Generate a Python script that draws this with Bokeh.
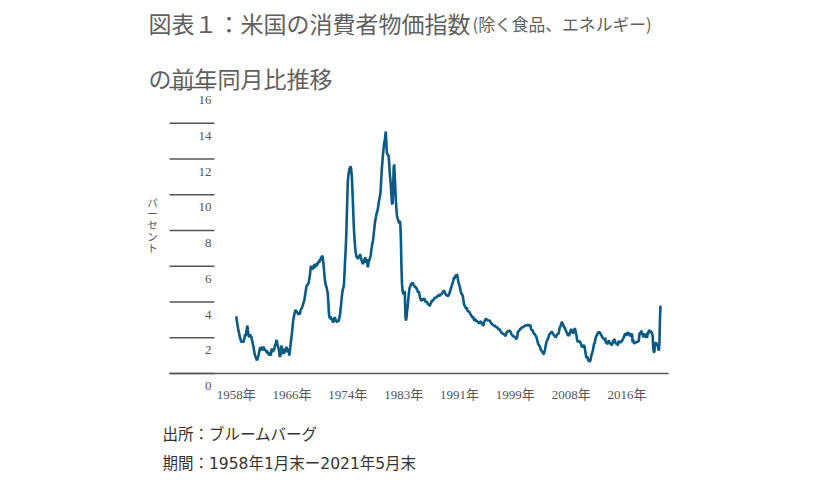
import numpy as np
from bokeh.plotting import figure
from bokeh.models import Range1d, Label
from bokeh.embed import file_html
from bokeh.resources import INLINE
from bokeh.core.properties import value

# ---------------- data ----------------
title_main = "図表１：米国の消費者物価指数"
title_sub = "(除く食品、エネルギー)"
title_line2 = "の前年同月比推移"
y_axis_title = "パ\nー\nセ\nン\nト"
source_note = "出所：ブルームバーグ"
period_note = "期間：1958年1月末ー2021年5月末"

# US core CPI, year-on-year %, monthly from Jan 1958 to May 2021
core_cpi_yoy = [
    3.2, 3.0, 2.8, 2.6, 2.4, 2.3, 2.1, 2.0, 1.9, 1.75, 1.8, 1.75,          # 1958
    1.8, 1.75, 1.9, 2.0, 2.2, 2.1, 2.3, 2.5, 2.68, 2.4, 2.2, 2.03,         # 1959
    2.1, 2.2, 2.0, 2.1, 1.9, 1.8, 1.6, 1.5, 1.3, 1.1, 1.0, 0.9,            # 1960
    0.85, 0.73, 0.8, 0.9, 1.0, 1.2, 1.3, 1.47, 1.3, 1.4, 1.5, 1.3,         # 1961
    1.4, 1.5, 1.3, 1.4, 1.28, 1.3, 1.2, 1.3, 1.1, 1.2, 1.1, 1.0,           # 1962
    1.1, 1.2, 1.0, 1.3, 1.38, 1.3, 1.2, 1.4, 1.3, 1.5, 1.6, 1.7,           # 1963
    1.88, 1.8, 1.6, 1.5, 1.4, 1.2, 0.91, 1.3, 1.0, 1.56, 1.4, 1.2,         # 1964
    1.3, 1.1, 1.19, 1.4, 1.3, 1.2, 1.5, 1.3, 1.4, 1.2, 1.3, 1.0,           # 1965
    1.2, 1.5, 1.8, 2.03, 2.3, 2.6, 2.96, 3.1, 3.3, 3.4, 3.56, 3.5,         # 1966
    3.5, 3.4, 3.4, 3.33, 3.3, 3.4, 3.3, 3.5, 3.6, 3.6, 3.7, 3.8,           # 1967
    3.9, 4.0, 4.08, 4.3, 4.5, 4.7, 4.92, 4.9, 5.0, 5.0, 5.1, 5.3,          # 1968
    5.5, 5.8, 6.03, 5.9, 5.8, 6.0, 5.85, 6.0, 6.1, 5.9, 6.13, 6.1,         # 1969
    6.0, 6.2, 6.1, 6.22, 6.3, 6.2, 6.4, 6.3, 6.54, 6.4, 6.6, 6.5,          # 1970
    6.2, 5.9, 5.5, 5.2, 5.0, 4.9, 4.8, 4.64, 4.5, 4.0, 3.4, 3.15,          # 1971
    3.1, 3.2, 3.0, 3.1, 3.0, 2.87, 2.9, 3.0, 3.1, 3.15, 2.9, 2.95,         # 1972
    2.9, 2.87, 3.0, 2.9, 3.0, 3.15, 3.3, 3.6, 3.9, 4.26, 4.5, 4.7,         # 1973
    4.8, 5.01, 5.6, 6.3, 6.9, 7.6, 8.7, 9.8, 10.78, 11.1, 11.3, 11.5,      # 1974
    11.5, 11.6, 11.4, 11.06, 10.4, 9.6, 8.73, 8.0, 7.5, 7.06, 6.8, 6.6,    # 1975
    6.5, 6.5, 6.4, 6.5, 6.6, 6.5, 6.69, 6.5, 6.4, 6.3, 6.2, 6.13,          # 1976
    6.2, 6.3, 6.4, 6.5, 6.3, 6.2, 6.4, 6.1, 5.94, 6.2, 6.3, 6.4,           # 1977
    6.5, 6.6, 6.9, 7.1, 7.3, 7.43, 7.7, 8.0, 8.3, 8.55, 8.7, 8.9,          # 1978
    9.0, 9.1, 9.29, 9.5, 9.7, 9.85, 10.0, 10.4, 11.0, 11.5, 11.9, 12.3,    # 1979
    12.6, 12.9, 13.0, 13.3, 13.54, 12.8, 12.27, 12.3, 12.2, 12.18, 11.8, 11.2,  # 1980
    10.9, 10.5, 10.0, 9.5, 9.48, 10.2, 11.5, 11.7, 11.0, 10.4, 9.66, 9.2,  # 1981
    8.8, 8.7, 8.6, 8.5, 8.4, 8.55, 8.36, 7.5, 5.94, 5.0, 4.64, 4.5,        # 1982
    4.45, 4.6, 4.54, 3.3, 2.96, 3.1, 3.5, 3.7, 4.08, 4.4, 4.7, 4.82,       # 1983
    4.9, 5.0, 5.0, 5.05, 5.1, 5.0, 4.9, 4.95, 4.82, 4.85, 4.8, 4.75,       # 1984
    4.73, 4.6, 4.54, 4.6, 4.45, 4.3, 4.2, 4.08, 4.08, 4.2, 4.1, 4.15,      # 1985
    4.17, 4.2, 4.1, 4.0, 4.05, 3.98, 4.0, 3.9, 3.85, 3.9, 3.8, 3.8,        # 1986
    3.9, 3.95, 4.08, 4.0, 4.1, 4.15, 4.1, 4.2, 4.26, 4.2, 4.3, 4.25,       # 1987
    4.3, 4.35, 4.36, 4.4, 4.3, 4.4, 4.45, 4.4, 4.45, 4.5, 4.55, 4.6,       # 1988
    4.64, 4.6, 4.5, 4.45, 4.4, 4.36, 4.4, 4.3, 4.36, 4.4, 4.5, 4.6,        # 1989
    4.7, 4.82, 4.9, 5.0, 5.1, 5.2, 5.38, 5.3, 5.4, 5.5, 5.4, 5.55,         # 1990
    5.5, 5.3, 5.1, 5.01, 4.9, 4.8, 4.6, 4.5, 4.45, 4.4, 4.3, 4.1,          # 1991
    3.89, 3.8, 3.75, 3.7, 3.6, 3.7, 3.55, 3.5, 3.45, 3.5, 3.42, 3.35,      # 1992
    3.3, 3.25, 3.2, 3.15, 3.2, 3.1, 3.0, 2.96, 3.05, 3.0, 2.9, 2.95,       # 1993
    2.9, 2.87, 2.85, 2.8, 2.85, 2.9, 2.9, 2.87, 2.8, 2.75, 2.68, 2.7,      # 1994
    2.85, 2.95, 3.0, 3.06, 3.05, 3.0, 2.95, 3.0, 2.95, 2.98, 2.96, 2.9,    # 1995
    2.85, 2.8, 2.78, 2.75, 2.7, 2.7, 2.65, 2.7, 2.65, 2.6, 2.59, 2.6,      # 1996
    2.55, 2.5, 2.45, 2.5, 2.44, 2.4, 2.35, 2.3, 2.25, 2.25, 2.22, 2.2,     # 1997
    2.2, 2.15, 2.12, 2.12, 2.31, 2.3, 2.35, 2.4, 2.35, 2.4, 2.4, 2.35,     # 1998
    2.3, 2.2, 2.15, 2.12, 2.1, 2.05, 2.1, 2.0, 2.05, 1.95, 1.94, 2.0,      # 1999
    2.2, 2.4, 2.35, 2.4, 2.45, 2.5, 2.5, 2.55, 2.6, 2.55, 2.63, 2.6,       # 2000
    2.65, 2.68, 2.7, 2.65, 2.7, 2.7, 2.75, 2.7, 2.65, 2.74, 2.7, 2.7,      # 2001
    2.5, 2.45, 2.4, 2.45, 2.3, 2.25, 2.22, 2.2, 2.1, 2.1, 2.0, 1.9,        # 2002
    1.75, 1.65, 1.6, 1.55, 1.5, 1.4, 1.28, 1.3, 1.2, 1.2, 1.1, 1.1,        # 2003
    1.2, 1.3, 1.5, 1.66, 1.8, 1.85, 1.9, 2.0, 2.1, 2.22, 2.2, 2.25,        # 2004
    2.3, 2.35, 2.31, 2.25, 2.2, 2.15, 2.1, 2.12, 2.0, 2.1, 2.1, 2.2,       # 2005
    2.22, 2.2, 2.3, 2.5, 2.6, 2.65, 2.75, 2.87, 2.85, 2.75, 2.7, 2.6,      # 2006
    2.59, 2.5, 2.45, 2.35, 2.3, 2.25, 2.12, 2.15, 2.1, 2.2, 2.31, 2.4,     # 2007
    2.5, 2.3, 2.4, 2.22, 2.3, 2.4, 2.5, 2.5, 2.35, 2.2, 2.03, 1.85,        # 2008
    1.75, 1.8, 1.75, 1.84, 1.75, 1.7, 1.6, 1.5, 1.5, 1.47, 1.6, 1.55,      # 2009
    1.5, 1.3, 1.1, 0.91, 0.9, 0.95, 0.82, 0.69, 0.8, 0.65, 0.7, 0.8,       # 2010
    1.0, 1.1, 1.2, 1.3, 1.5, 1.66, 1.7, 1.85, 2.0, 2.1, 2.12, 2.2,         # 2011
    2.3, 2.31, 2.3, 2.3, 2.25, 2.2, 2.12, 2.1, 2.0, 2.0, 1.94, 1.9,        # 2012
    1.9, 2.0, 1.75, 1.7, 1.7, 1.65, 1.7, 1.84, 1.8, 1.7, 1.7, 1.66,        # 2013
    1.6, 1.6, 1.7, 1.8, 1.84, 1.9, 1.9, 1.7, 1.7, 1.66, 1.7, 1.6,          # 2014
    1.6, 1.84, 1.75, 1.8, 1.7, 1.8, 1.8, 1.8, 1.9, 1.94, 2.0, 2.1,         # 2015
    2.2, 2.22, 2.2, 2.1, 2.2, 2.31, 2.2, 2.3, 2.2, 2.1, 2.12, 2.2,         # 2016
    2.2, 2.2, 1.75, 1.9, 1.7, 1.7, 1.7, 1.75, 1.7, 1.8, 1.75, 1.8,         # 2017
    1.8, 1.8, 2.1, 2.31, 2.2, 2.3, 2.4, 2.2, 2.2, 2.03, 2.2, 2.2,          # 2018
    2.2, 2.12, 2.0, 2.1, 2.0, 2.31, 2.2, 2.4, 2.4, 2.35, 2.4, 2.3,         # 2019
    2.3, 2.22, 2.1, 1.4, 1.2, 1.19, 1.6, 1.7, 1.75, 1.6, 1.6, 1.6,         # 2020
    1.4, 1.28, 1.66, 3.0, 3.8,                                             # 2021
]

# x ticks: every 100 months from Jan 1958
x_tick_months = [0, 100, 200, 300, 400, 500, 600, 700]
x_tick_labels = ["1958年", "1966年", "1974年", "1983年", "1991年", "1999年", "2008年", "2016年"]
y_ticks = [0, 2, 4, 6, 8, 10, 12, 14, 16]
y_tick_labels = ["0", "2", "4", "6", "8", "10", "12", "14", "16"]

# ---------------- layout (pixels) ----------------
W, H = 829, 494
X0_PX, PX_PER_MONTH = 235.7, 0.5583      # where month 0 sits, and month spacing
Y0_PX, PX_PER_UNIT = 373.0, 17.875       # where 0 % sits, and 1 % spacing
AXIS_LEFT_PX, TICK_RIGHT_PX, AXIS_RIGHT_PX = 169, 214, 668

def to_x(px):
    return (px - X0_PX) / PX_PER_MONTH

def to_y(py):
    return (Y0_PX - py) / PX_PER_UNIT

LINE_COLOR = "#0b5a85"
AXIS_COLOR = "#555555"
TICK_FONT = "'Liberation Serif', 'Noto Sans CJK JP', serif"
JP_FONT = "'Noto Sans CJK JP', sans-serif"
NOTE_FONT = "'DejaVu Sans', 'Noto Sans CJK JP', sans-serif"

month_index = np.arange(len(core_cpi_yoy))

p = figure(
    width=W, height=H,
    x_range=Range1d(to_x(0), to_x(W)),
    y_range=Range1d(to_y(H), to_y(0)),
    x_axis_type=None, y_axis_type=None,
    output_backend="svg", toolbar_location=None, tools="",
    min_border=0,
)
p.outline_line_color = None
p.background_fill_color = "white"
p.border_fill_color = "white"
p.xgrid.visible = False
p.ygrid.visible = False

n_y = len(y_ticks)
# short tick lines for each y value
p.segment(x0=[to_x(AXIS_LEFT_PX)] * n_y, y0=y_ticks,
          x1=[to_x(TICK_RIGHT_PX)] * n_y, y1=y_ticks,
          line_color=AXIS_COLOR, line_width=1.3)
# baseline (0 %)
p.segment(x0=[to_x(AXIS_LEFT_PX)], y0=[y_ticks[0]],
          x1=[to_x(AXIS_RIGHT_PX)], y1=[y_ticks[0]],
          line_color=AXIS_COLOR, line_width=1.3)

# y tick labels under each tick line
p.text(x=[to_x(AXIS_LEFT_PX)] * n_y, y=y_ticks, text=y_tick_labels,
       x_offset=42, y_offset=12.5, text_align="right", text_baseline="middle",
       text_font=value(TICK_FONT), text_font_size="13px", text_color="#555555")

# x tick labels
p.text(x=x_tick_months, y=[y_ticks[0]] * len(x_tick_months), text=x_tick_labels,
       y_offset=21, text_align="center", text_baseline="middle",
       text_font=value(TICK_FONT), text_font_size="13px", text_color="#555555")

# data line
p.line(month_index, core_cpi_yoy, line_color=LINE_COLOR, line_width=2.6)

def add_label(text, px, py, size, color, font=JP_FONT):
    p.add_layout(Label(
        x=px, y=H - py, x_units="screen", y_units="screen", text=text,
        text_font=font, text_font_size=size, text_color=color,
        text_align="left", text_baseline="middle",
    ))

add_label(title_main, 148, 22, "23px", "#606060")
add_label(title_sub, 472, 23, "16.8px", "#606060")
add_label(title_line2, 148, 77.5, "23px", "#606060")
add_label(source_note, 162, 434, "15.5px", "#333333", NOTE_FONT)
add_label(period_note, 162, 463, "15.5px", "#333333", NOTE_FONT)

p.add_layout(Label(
    x=152, y=H - 224.5, x_units="screen", y_units="screen", text=y_axis_title,
    text_font=JP_FONT, text_font_size="10.5px", text_color="#555555",
    text_align="center", text_baseline="middle", text_line_height=0.76,
))

open("out.html", "w").write(file_html(p, INLINE))
